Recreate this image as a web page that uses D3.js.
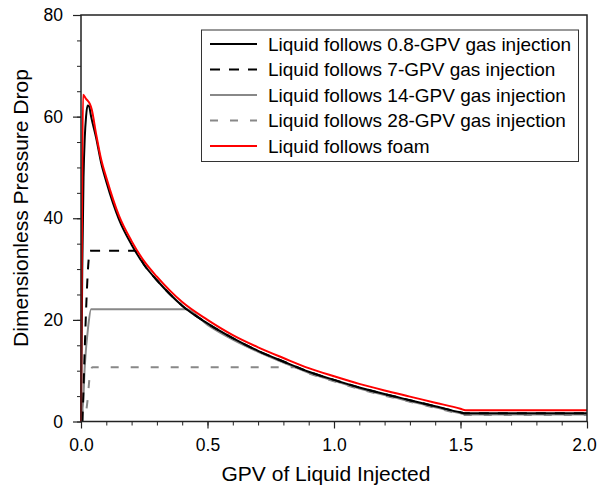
<!DOCTYPE html>
<html>
<head>
<meta charset="utf-8">
<script src="https://cdn.jsdelivr.net/npm/d3@7"></script>
<style>
  body { margin: 0; background: #fff; }
  svg { font-family: "Liberation Sans", Arial, Helvetica, sans-serif; }
  .axis path, .axis line { stroke: #222; }
  .series { fill: none; stroke-width: 2; }
</style>
</head>
<body>
<svg width="597" height="489"></svg>
<script>
// Pressure drop curves as [GPV injected, pressure drop]

// Tick labels
var xTicks = [0, 0.5, 1.0, 1.5, 2.0],
    yTicks = [0, 20, 40, 60, 80];

var seriesNames = [
  "Liquid follows 0.8-GPV gas injection",
  "Liquid follows 7-GPV gas injection",
  "Liquid follows 14-GPV gas injection",
  "Liquid follows 28-GPV gas injection",
  "Liquid follows foam"
];

var gas08 = [[0,0],[0.005,30],[0.01,48],[0.015,56],[0.02,60],[0.026,62.2],[0.032,62],[0.04,60],
  [0.06,55.8],[0.08,50.8],[0.1,47.2],[0.15,39.8],[0.2,34.8],[0.25,30.8],[0.3,27.8],[0.4,22.8],
  [0.5,19.3],[0.6,16.4],[0.7,13.9],[0.8,11.8],[0.9,9.8],[1.0,8.2],[1.1,6.7],[1.2,5.4],[1.3,4.2],
  [1.4,3.0],[1.5,1.8],[1.52,1.6],[2.0,1.6]];

var gas7 = [[0.006,0],[0.036,33.6],[0.215,33.6],[0.25,30.8],[0.3,27.8],[0.4,22.8],
  [0.5,19.3],[0.6,16.4],[0.7,13.9],[0.8,11.8],[0.9,9.8],[1.0,8.2],[1.1,6.7],[1.2,5.4],[1.3,4.2],
  [1.4,3.0],[1.5,1.8],[1.52,1.6],[2.0,1.6]];

var gas14 = [[0,5],[0.006,2],[0.015,11],[0.028,18.5],[0.04,22.1],[0.415,22.1],[0.5,19.0],
  [0.6,16.1],[0.7,13.7],[0.8,11.6],[0.9,9.6],[1.0,8.0],[1.1,6.5],[1.2,5.2],[1.3,4.0],[1.4,2.8],
  [1.5,1.6],[1.52,1.4],[2.0,1.4]];

var gas28 = [[0,3.5],[0.015,1.2],[0.026,4.2],[0.033,8.2],[0.045,10.7],[0.845,10.7],[0.9,9.5],
  [1.0,7.9],[1.1,6.4],[1.2,5.1],[1.3,3.9],[1.4,2.7],[1.5,1.5],[1.52,1.3],[2.0,1.3]];

var foam = [[0,0],[0.004,40],[0.008,64.3],[0.02,63.5],[0.035,62.5],[0.042,61.5],[0.06,56.5],
  [0.08,51.5],[0.1,48],[0.15,40.5],[0.2,35.5],[0.25,31.5],[0.3,28.5],[0.4,23.5],[0.5,20],
  [0.6,17],[0.7,14.6],[0.8,12.5],[0.9,10.5],[1.0,8.9],[1.1,7.4],[1.2,6.1],[1.3,4.9],[1.4,3.7],
  [1.5,2.5],[1.52,2.2],[2.0,2.2]];

// Layout
var plot = {left: 81, right: 587, top: 15, bottom: 421.5};

var x = d3.scaleLinear().domain([0, 2]).range([plot.left, plot.right]);
var y = d3.scaleLinear().domain([0, 80]).range([plot.bottom, plot.top]);

var styles = [
  {data: gas08, color: "#000", dash: null},
  {data: gas7, color: "#000", dash: "10,9"},
  {data: gas14, color: "#888", dash: null},
  {data: gas28, color: "#888", dash: "8,12"},
  {data: foam, color: "#f00", dash: null}
];

var svg = d3.select("svg");

// minor ticks
svg.append("g")
  .attr("class", "axis")
  .attr("transform", "translate(0," + plot.bottom + ")")
  .call(d3.axisBottom(x).tickValues(x.ticks(20)).tickSize(4).tickFormat(""))
  .call(function (g) { g.select(".domain").remove(); });

svg.append("g")
  .attr("class", "axis")
  .attr("transform", "translate(" + plot.left + ",0)")
  .call(d3.axisLeft(y).tickValues(y.ticks(16)).tickSize(4).tickFormat(""))
  .call(function (g) { g.select(".domain").remove(); });

// major ticks
var xAxis = svg.append("g")
  .attr("class", "axis")
  .attr("transform", "translate(0," + plot.bottom + ")")
  .call(d3.axisBottom(x).tickValues(xTicks).tickSize(7).tickPadding(10).tickFormat(d3.format(".1f")));

var yAxis = svg.append("g")
  .attr("class", "axis")
  .attr("transform", "translate(" + plot.left + ",0)")
  .call(d3.axisLeft(y).tickValues(yTicks).tickSize(8).tickPadding(10));

[xAxis, yAxis].forEach(function (g) {
  g.attr("font-family", null).attr("font-size", null);
  g.selectAll("text").style("font-size", "17.5px").attr("fill", "#000");
  g.selectAll("line").attr("stroke-width", 1.2);
  g.select(".domain").remove();
});

// last x label sits against the window edge
xAxis.selectAll(".tick").filter(function (d) { return d === 2; })
  .select("text").attr("dx", -3);

// series, drawn back to front
var line = d3.line()
  .x(function (d) { return x(d[0]); })
  .y(function (d) { return y(d[1]); })
  .curve(d3.curveMonotoneX);

var order = [3, 2, 1, 0, 4];
svg.append("g")
  .selectAll("path")
  .data(order)
  .enter()
    .append("path")
    .attr("class", "series")
    .attr("d", function (i) { return line(styles[i].data); })
    .attr("stroke", function (i) { return styles[i].color; })
    .attr("stroke-dasharray", function (i) { return styles[i].dash; });

// frame
svg.append("rect")
  .attr("x", plot.left)
  .attr("y", plot.top)
  .attr("width", plot.right - plot.left)
  .attr("height", plot.bottom - plot.top)
  .attr("fill", "none")
  .attr("stroke", "#222")
  .attr("stroke-width", 1.5);

// axis titles
svg.append("text")
  .attr("x", 326)
  .attr("y", 481)
  .attr("text-anchor", "middle")
  .style("font-size", "21px")
  .text("GPV of Liquid Injected");

svg.append("text")
  .attr("transform", "translate(" + [28, 208] + ") rotate(-90)")
  .attr("text-anchor", "middle")
  .style("font-size", "21px")
  .text("Dimensionless Pressure Drop");

// legend
var legend = svg.append("g").attr("transform", "translate(201.5,30)");

legend.append("rect")
  .attr("width", 377)
  .attr("height", 131.5)
  .attr("fill", "#fff")
  .attr("stroke", "#333")
  .attr("stroke-width", 1);

var item = legend.selectAll(".item")
  .data(seriesNames)
  .enter()
    .append("g")
    .attr("class", "item")
    .attr("transform", function (d, i) { return "translate(0," + (14 + i * 25.5) + ")"; });

item.append("line")
  .attr("x1", 8.5)
  .attr("x2", 55.5)
  .attr("stroke-width", 2)
  .attr("stroke", function (d, i) { return styles[i].color; })
  .attr("stroke-dasharray", function (d, i) { return styles[i].dash; });

item.append("text")
  .attr("x", 66.5)
  .attr("y", 6.7)
  .style("font-size", "19px")
  .text(function (d) { return d; });
</script>
</body>
</html>
